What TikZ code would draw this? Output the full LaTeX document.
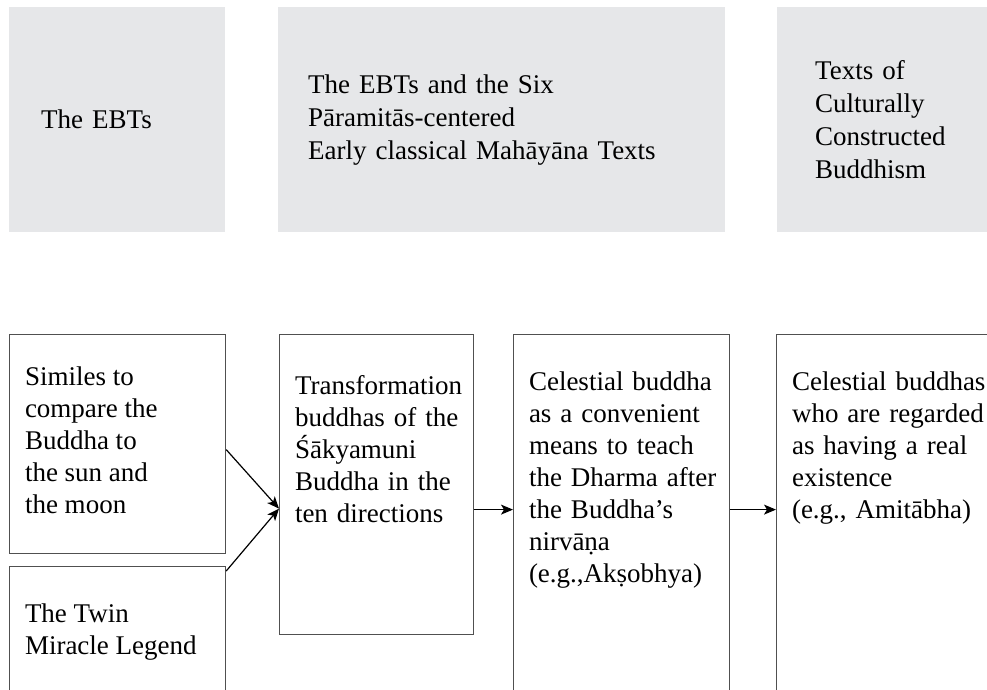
\documentclass[tikz,border=0pt]{standalone}
\usepackage{fontspec}
\setmainfont{Liberation Serif}
\usetikzlibrary{arrows.meta,positioning}
\definecolor{periodcolor}{HTML}{E6E7E9}
\definecolor{linecolor}{HTML}{505050}
\newcommand{\fullline}[1]{\makebox[\hsize][s]{#1}}
\tikzset{
    period/.style={
        shape=rectangle,
        fill=periodcolor,
        anchor=north west,
        align=left,
        minimum height=225pt,
        inner ysep=0pt,
        font=\fontsize{27}{33}\selectfont
    },
    stage/.style={
        shape=rectangle,
        draw=linecolor,
        line width=1.2pt,
        anchor=north west,
        inner sep=0pt
    },
    caption/.style={
        inner sep=0pt,
        outer sep=0pt,
        align=left,
        font=\fontsize{27}{32}\selectfont
    },
    development/.style={
        -{Stealth[length=12pt,width=10pt,inset=3pt]},
        line width=1.2pt
    }
}

\begin{document}
\begin{tikzpicture}[x=1pt,y=-1pt]
    \useasboundingbox (0,0) rectangle (987,689);
    \clip (0,0) rectangle (987,689);

    \begin{scope} % text groups
    	\node[period, inner xsep=32pt, text width=152pt] (ebt) at (9,7) {The EBTs};
    	\node[period, inner xsep=30pt, text width=387pt] (early) at (278,7)
    	{The EBTs and the Six\\P\=aramit\=as-centered\\Early classical Mah\=ay\=ana Texts};
    	\node[period, inner xsep=38pt, text width=154pt] (cultural) at (777,7)
    	{Texts of\\Culturally\\Constructed\\Buddhism};
    \end{scope}

    \node[stage, minimum width=216pt, minimum height=219pt] (similes) at (9,334) {};
    \node[stage, minimum width=216pt, minimum height=150pt] (twin) at (9,566) {};
    \node[stage, minimum width=194pt, minimum height=300pt] (transform) at (279,334) {};
    \node[stage, minimum width=216pt, minimum height=400pt] (celestial) at (513,334) {};
    \node[stage, minimum width=250pt, minimum height=400pt] (real) at (776,334) {};

    \node[caption, below right=32.5pt and 16pt of similes.north west] (similestext)
    {Similes to\\compare the\\Buddha to\\the sun and\\the moon};
    \node[caption, below right=37.5pt and 16pt of twin.north west] (twintext)
    {The Twin\\Miracle Legend};
    \node[caption, text width=169pt, below right=41.5pt and 16pt of transform.north west] (transformtext)
    {Transformation\\\fullline{buddhas of the}\\Śākyamuni\\\fullline{Buddha in the}\\ten directions};
    \node[caption, text width=192pt, below right=37.5pt and 16pt of celestial.north west] (celestialtext)
    {\fullline{Celestial buddha}\\\fullline{as a convenient}\\\fullline{means to teach}\\\fullline{the Dharma after}\\the Buddha’s\\nirvāṇa\\(e.g.,Akṣobhya)};
    \node[caption, text width=192pt, below right=37.5pt and 16pt of real.north west] (realtext)
    {\fullline{Celestial buddhas}\\\fullline{who are regarded}\\\fullline{as having a real}\\existence\\(e.g., Amitābha)};

    \begin{scope} % developments
    	\draw[development] ([yshift=-5.5pt]similes.east) -- ([yshift=-24pt]transform.west);
    	\draw[development] ([yshift=-5pt]twin.north east) -- ([yshift=-24pt]transform.west);
    	\coordinate (junction) at ([yshift=-25pt]transform.east);
    	\draw[development] (junction) -- (junction -| celestial.west);
    	\draw[development] (junction -| celestial.east) -- (junction -| real.west);
    \end{scope}
\end{tikzpicture}
\end{document}
